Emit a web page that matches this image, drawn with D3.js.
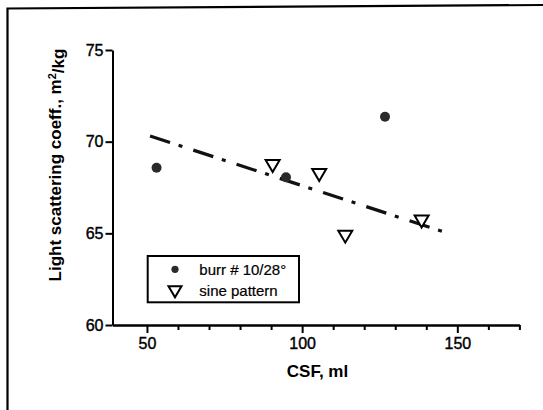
<html>
<script src="https://d3js.org/d3.v7.min.js"></script>
<style>
  body { margin: 0; background: white; }
  text { font-family: "Liberation Sans", Arial, sans-serif; fill: black; }
</style>
<body onload="init()">
<svg width="543" height="410"></svg>
<script>
	// burr # 10/28° (filled circles)
	var burrCSF = [53.1, 94.8, 126.7];
	var burrLSC = [68.58, 68.06, 71.36];
	// sine pattern (open triangles)
	var sineCSF = [90.5, 105.5, 113.9, 138.5];
	var sineLSC = [68.67, 68.18, 64.82, 65.64];
	// dash-dot trend line ends
	var fitCSF = [51.0, 145.4];
	var fitLSC = [70.31, 65.09];

	var xMajor = [50, 100, 150];
	var xMinor = [60, 70, 80, 90, 110, 120, 130, 140, 160, 170];
	var yTicks = [60, 65, 70, 75];

	var legendLabels = ["burr # 10/28°", "sine pattern"];

	function init(){
		var svg = d3.select("svg");

		// frame of the scanned figure
		svg.append("path").attr("d", "M7.5,410 L7.5,8.5 L543,5")
			.style("fill", "none").style("stroke", "black").style("stroke-width", 2.2);

		var x = d3.scaleLinear().domain([38.9, 170]).range([112.5, 519.4]);
		var y = d3.scaleLinear().domain([60, 75]).range([325, 50]);

		// x axis
		svg.append("g").attr("transform", "translate(0," + y(60) + ")")
			.call(d3.axisBottom(x).tickValues(xMajor).tickSize(8).tickSizeOuter(0).tickPadding(4.5).tickFormat(d3.format("d")));
		svg.append("g").attr("transform", "translate(0," + y(60) + ")")
			.call(d3.axisBottom(x).tickValues(xMinor).tickSize(5).tickSizeOuter(0).tickFormat(""));

		// y axis
		svg.append("g").attr("transform", "translate(" + x(38.9) + ",0)")
			.call(d3.axisLeft(y).tickValues(yTicks).tickSize(7).tickSizeOuter(0).tickPadding(2));

		svg.selectAll(".domain, .tick line").style("stroke", "black").style("stroke-width", 2);
		svg.selectAll(".tick text").style("font-size", "16px").style("font-family", "'Liberation Sans', Arial, sans-serif")
			.style("fill", "black").style("stroke", "black").style("stroke-width", 0.4);

		// axis titles
		svg.append("text").attr("x", 317.5).attr("y", 377).attr("text-anchor", "middle")
			.style("font-size", "17px").style("font-weight", "bold").text("CSF, ml");
		var yt = svg.append("text").attr("transform", "translate(61,165) rotate(-90)").attr("text-anchor", "middle")
			.style("font-size", "17px").style("font-weight", "bold");
		yt.append("tspan").text("Light scattering coeff., m");
		yt.append("tspan").attr("dy", "-0.45em").style("font-size", "11px").text("2");
		yt.append("tspan").attr("dy", "0.45em").text("/kg");

		// trend line
		var fit = fitCSF.map(function(d, i){ return [d, fitLSC[i]]; });
		svg.append("path").datum(fit)
			.attr("d", d3.line().x(function(d){ return x(d[0]); }).y(function(d){ return y(d[1]); }))
			.style("fill", "none").style("stroke", "#111").style("stroke-width", 3.2)
			.style("stroke-dasharray", "21,9,4,11.5");

		// burr circles
		svg.append("g").selectAll("circle").data(burrCSF).enter().append("circle")
			.attr("cx", function(d){ return x(d); })
			.attr("cy", function(d, i){ return y(burrLSC[i]); })
			.attr("r", 5).style("fill", "#2a2a2a");

		// sine triangles
		var tri = "M-7,-6 L7,-6 L0,6 Z";
		svg.append("g").selectAll("path").data(sineCSF).enter().append("path")
			.attr("d", tri)
			.attr("transform", function(d, i){ return "translate(" + x(d) + "," + y(sineLSC[i]) + ")"; })
			.style("fill", "white").style("stroke", "black").style("stroke-width", 2);

		// legend
		var lg = svg.append("g");
		lg.append("rect").attr("x", 147.7).attr("y", 256).attr("width", 151.3).attr("height", 46.3)
			.style("fill", "white").style("stroke", "black").style("stroke-width", 2);
		lg.append("circle").attr("cx", 175).attr("cy", 269.3).attr("r", 3.6).style("fill", "#2a2a2a");
		lg.append("path").attr("d", "M-6.5,-5.5 L6.5,-5.5 L0,5.5 Z").attr("transform", "translate(175,291.7)")
			.style("fill", "white").style("stroke", "black").style("stroke-width", 2);
		lg.selectAll("text.lab").data(legendLabels).enter().append("text").attr("class", "lab")
			.attr("x", 199.3).attr("y", function(d, i){ return 274.5 + i * 21; })
			.style("font-size", "15px").style("stroke", "black").style("stroke-width", 0.2)
			.text(function(d){ return d; });
	}
</script>
</body>
</html>
